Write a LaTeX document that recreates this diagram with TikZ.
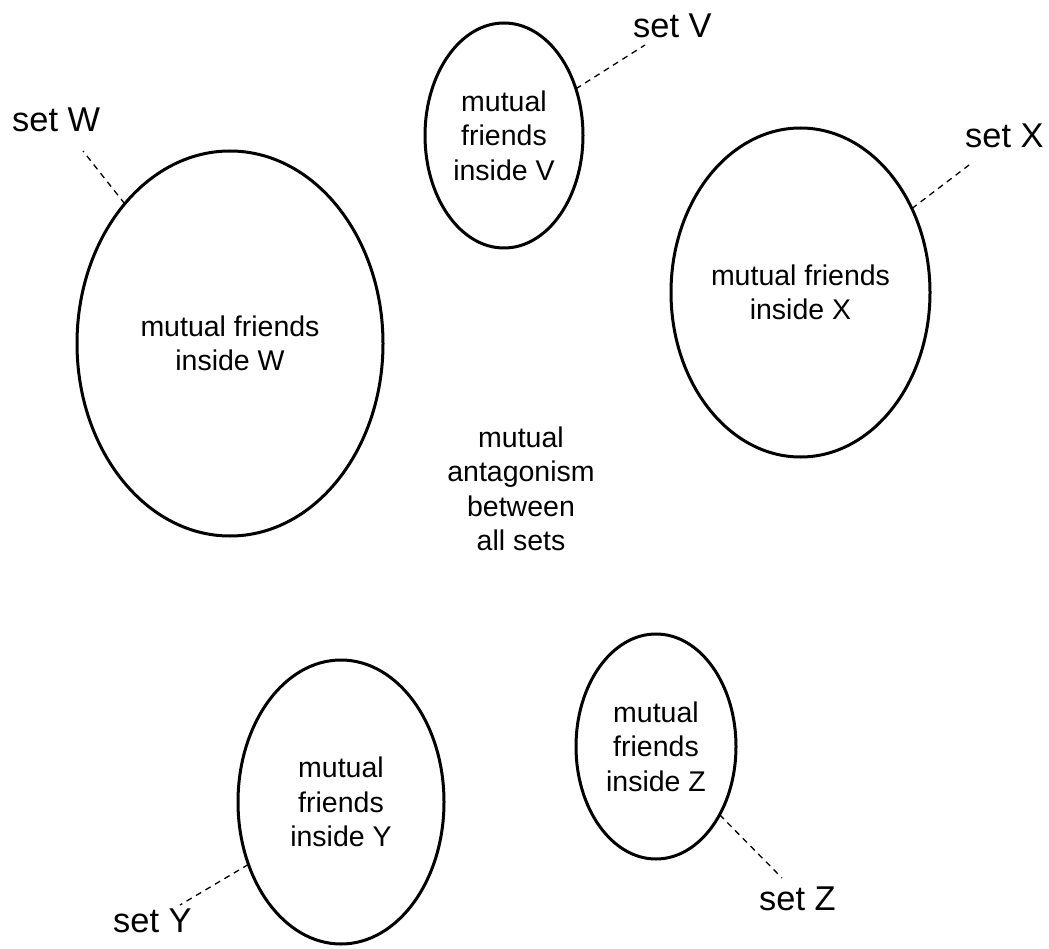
\documentclass[tikz,border=0pt]{standalone}
\usepackage{fontspec}
\setmainfont{Liberation Sans}
\usetikzlibrary{shapes.geometric}
\tikzset{
  setell/.style={ellipse, draw=black, line width=3pt, inner sep=0pt, outer sep=0pt,
    align=center, font=\fontsize{28.5}{34.5}\selectfont},
  setlabel/.style={inner sep=0pt, anchor=base west, font=\fontsize{34.4}{40}\selectfont},
  leader/.style={draw=black, line width=1.3pt, dash pattern=on 6pt off 5pt},
  plaintext/.style={align=center, inner sep=0pt, font=\fontsize{28.5}{34.5}\selectfont}
}
\begin{document}
\begin{tikzpicture}[x=1pt,y=-1pt]
\useasboundingbox (0,0) rectangle (1049,949);
% ellipses
\node[setell, minimum width=306pt, minimum height=385pt] (W) at (230,343.5) {mutual friends\\inside W};
\node[setell, minimum width=158pt, minimum height=225pt] (V) at (504,135.5) {mutual\\friends\\inside V};
\node[setell, minimum width=259pt, minimum height=329pt] (X) at (800.5,292.5) {mutual friends\\inside X};
\node[setell, minimum width=206pt, minimum height=284pt] (Y) at (341,802) {mutual\\friends\\inside Y};
\node[setell, minimum width=160pt, minimum height=225pt] (Z) at (656,746.5) {mutual\\friends\\inside Z};
% centre text
\node[plaintext] (M) at (521,489) {mutual\\antagonism\\between\\all sets};
% labels
\node[setlabel] (LW) at (12,132) {set W};
\node[setlabel] (LV) at (633,38) {set V};
\node[setlabel] (LX) at (965,148) {set X};
\node[setlabel] (LY) at (113,932) {set Y};
\node[setlabel] (LZ) at (759,910) {set Z};
% leader ends
\coordinate (eW) at (83,151);
\coordinate (eV) at (645,45);
\coordinate (eX) at (973,162);
\coordinate (eY) at (180,905);
\coordinate (eZ) at (782,878);
\draw[leader] (W.127.3) -- (eW);
\draw[leader] (V.33) -- (eV);
\draw[leader] (X.37.2) -- (eX);
\draw[leader] (Y.214) -- (eY);
\draw[leader] (Z.313) -- (eZ);
\end{tikzpicture}
\end{document}
